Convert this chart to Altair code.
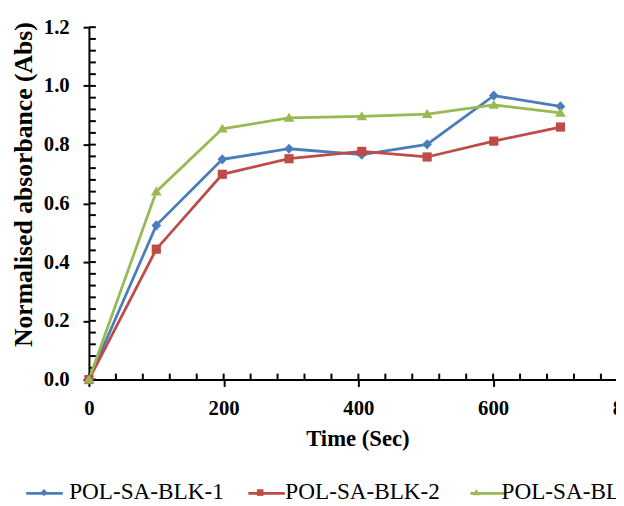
import altair as alt
import pandas as pd

# ---- data ----
times = [0, 100, 198, 297, 405, 502, 601, 700]
series_names = ["POL-SA-BLK-1", "POL-SA-BLK-2", "POL-SA-BLK-3"]
blk1 = [0.0, 0.525, 0.750, 0.786, 0.766, 0.801, 0.967, 0.930]
blk2 = [0.0, 0.444, 0.699, 0.752, 0.777, 0.758, 0.812, 0.860]
blk3 = [0.0, 0.640, 0.854, 0.891, 0.896, 0.904, 0.935, 0.908]
colors = ["#4A7EBB", "#BE4B48", "#98B954"]

x_major = [0, 200, 400, 600, 800]
x_minor = list(range(0, 801, 40))
y_major = [0.0, 0.2, 0.4, 0.6, 0.8, 1.0, 1.2]
y_minor = [round(i * 0.04, 2) for i in range(31)]

rows = []
for name, vals in zip(series_names, [blk1, blk2, blk3]):
    for t, v in zip(times, vals):
        rows.append({"time": t, "abs": v, "series": name})
df = pd.DataFrame(rows)
df_xminor = pd.DataFrame({"t": x_minor})
df_yminor = pd.DataFrame({"v": y_minor})

FONT = "Liberation Serif"

shape_paths = [
    "M0,-0.2L0.19,0L0,0.2L-0.19,0Z",
    "M-0.18,-0.18L0.18,-0.18L0.18,0.18L-0.18,0.18Z",
    "M0,-0.2L0.21,0.15L-0.21,0.15Z",
]
MARKER_SIZE = 2683

LEG_X = -65
LEG_Y = 452

common_leg = dict(
    orient="none", legendX=LEG_X, legendY=LEG_Y, direction="horizontal",
    title=None, symbolSize=1369, labelFont=FONT, labelFontSize=23.5,
    labelColor="black", labelOffset=6, columnPadding=17, padding=0,
    labelLimit=400,
)

def x_scale():
    return alt.Scale(domain=[0, 800], range=[0, 546], nice=False, zero=False)

def y_scale():
    return alt.Scale(domain=[0, 1.2], nice=False)

color_dom = alt.Scale(domain=series_names, range=colors)

axis_style = dict(
    tickColor="black", tickWidth=2, domainColor="black", domainWidth=2,
    labelFont=FONT, labelFontWeight="bold", labelFontSize=21, labelColor="black",
    titleFont=FONT, titleFontWeight="bold", titleColor="black", grid=False,
    labelFlush=False, labelOverlap=False,
)

# minor (inward) tick marks, positioned through the same scales as the data
xticks = alt.Chart(df_xminor).mark_tick(
    orient="vertical", size=6, thickness=2, yOffset=-3, color="black", opacity=1
).encode(
    x=alt.X("t:Q", scale=x_scale(), axis=None),
    y=alt.YDatum(0, type="quantitative", scale=y_scale(), axis=None),
)
yticks = alt.Chart(df_yminor).mark_tick(
    orient="horizontal", size=7, thickness=2, xOffset=3.5, color="black", opacity=1
).encode(
    y=alt.Y("v:Q", scale=y_scale(), axis=None),
    x=alt.XDatum(0, type="quantitative", scale=x_scale(), axis=None),
)

lines = alt.Chart(df).mark_line(strokeWidth=2.8).encode(
    x=alt.X("time:Q", scale=x_scale(), axis=alt.Axis(
        values=x_major, format="d", tickSize=7, labelPadding=11,
        title="Time (Sec)", titleFontSize=23, titleX=272, titleY=60,
        titleBaseline="middle", titleAlign="center", orient="bottom", **axis_style)),
    y=alt.Y("abs:Q", scale=y_scale(), axis=alt.Axis(
        values=y_major, format=".1f", tickSize=6, labelPadding=14,
        title="Normalised absorbance (Abs)", titleFontSize=26, titleX=-66, titleY=159,
        titleAngle=270, titleBaseline="middle", titleAlign="center", orient="left",
        **axis_style)),
    color=alt.Color("series:N", scale=color_dom, legend=alt.Legend(
        symbolType="stroke", symbolStrokeWidth=2.8, labelOpacity=0, **common_leg)),
    order="time:Q",
)

points = alt.Chart(df).mark_point(filled=True, opacity=1, size=MARKER_SIZE).encode(
    x=alt.X("time:Q", scale=x_scale(), axis=None),
    y=alt.Y("abs:Q", scale=y_scale(), axis=None),
    color=alt.Color("series:N", scale=color_dom, legend=alt.Legend(**common_leg)),
    shape=alt.Shape("series:N", scale=alt.Scale(domain=series_names, range=shape_paths),
                    legend=alt.Legend(**common_leg)),
)

chart = alt.layer(xticks, yticks, lines, points).resolve_scale(
    x="independent", y="independent", color="independent", shape="independent"
).resolve_axis(x="independent", y="independent").properties(
    width=534, height=357,
    autosize=alt.AutoSizeParams(type="none"),
    padding={"left": 82, "top": 16, "right": 0, "bottom": 150},
    background="white",
).configure_view(stroke=None)

chart.save("out.html", embed_options={"renderer": "svg", "actions": False})
